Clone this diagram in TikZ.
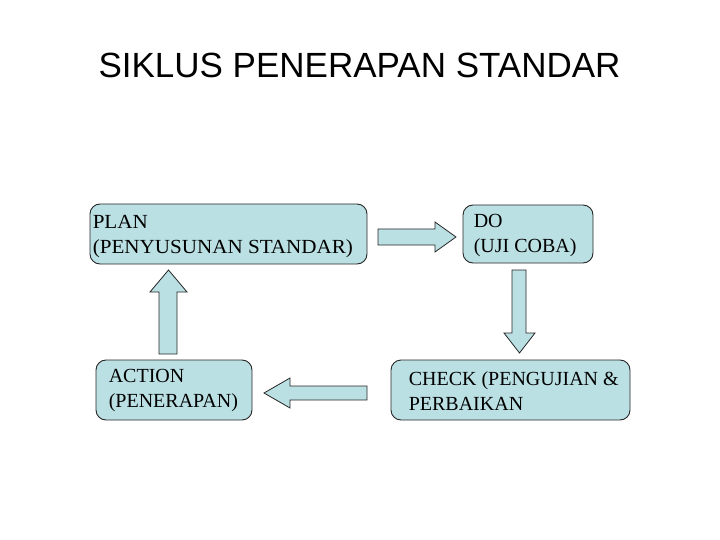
\documentclass[tikz,border=0pt]{standalone}
\usepackage{fontspec}
\setmainfont{Liberation Serif}
\newfontfamily\titlefont{Liberation Sans}
\definecolor{boxfill}{RGB}{187,224,228}
\begin{document}
\begin{tikzpicture}[x=1pt,y=-1pt,
  box/.style={draw=black!85, line width=0.9pt, fill=boxfill, rounded corners=10pt, inner sep=0pt},
  txt/.style={anchor=west, align=left, inner sep=0pt, font=\fontsize{20}{25}\selectfont},
  blockarrow/.style={draw=black!85, line width=0.8pt, fill=boxfill, line join=miter}]
\useasboundingbox (0,0) rectangle (720,540);
\node[font=\titlefont\fontsize{35}{42}\selectfont, inner sep=0pt] (title) at (359.5,65.5) {SIKLUS PENERAPAN STANDAR};

% boxes
\node[box, minimum width=277pt, minimum height=60pt] (plan) at (228.5,234) {};
\node[box, minimum width=130pt, minimum height=58pt] (do) at (528,234) {};
\node[box, minimum width=156pt, minimum height=60pt] (action) at (174,390) {};
\node[box, minimum width=239pt, minimum height=60pt] (check) at (510.5,390) {};

\node[txt] (plantxt) at ([xshift=3pt,yshift=-2pt]plan.west) {\scalebox{1.055}[1]{\begin{tabular}{@{}l@{}}PLAN\\(PENYUSUNAN STANDAR)\end{tabular}}};
\node[txt] (dotxt) at ([xshift=11pt,yshift=-2pt]do.west) {DO\\(UJI COBA)};
\node[txt] (actiontxt) at ([xshift=13pt,yshift=-1pt]action.west) {ACTION\\(PENERAPAN)};
\node[txt] (checktxt) at ([xshift=18pt,yshift=-1pt]check.west) {CHECK (PENGUJIAN \&\\PERBAIKAN};

% block arrows
% PLAN -> DO (right)
\draw[blockarrow] (378,229) -- (435,229) -- (435,222) -- (456,237) -- (435,252) -- (435,245) -- (378,245) -- cycle;
% DO -> CHECK (down)
\draw[blockarrow] (512,270) -- (526,270) -- (526,333) -- (535,333) -- (519.5,353) -- (504,333) -- (512,333) -- cycle;
% CHECK -> ACTION (left)
\draw[blockarrow] (367,386) -- (290,386) -- (290,378) -- (264,393) -- (290,408) -- (290,400) -- (367,400) -- cycle;
% ACTION -> PLAN (up)
\draw[blockarrow] (159,354) -- (159,292) -- (150,292) -- (168.5,270) -- (187,292) -- (177,292) -- (177,354) -- cycle;
\end{tikzpicture}
\end{document}
